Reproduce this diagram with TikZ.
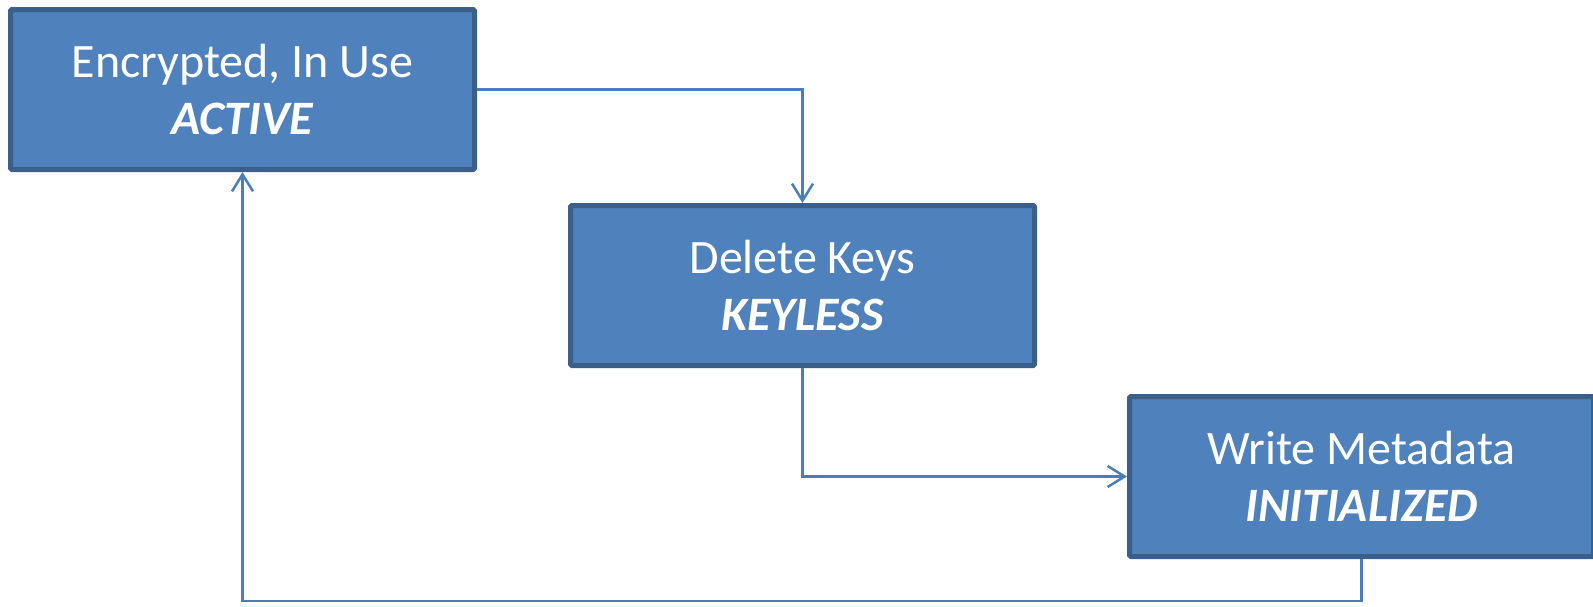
\documentclass[tikz,border=0pt]{standalone}
\usepackage{fontspec}
\setmainfont{Carlito}
\usetikzlibrary{arrows.meta,calc}
\definecolor{boxfill}{HTML}{4F81BD}
\definecolor{boxline}{HTML}{3A5F8B}
\definecolor{wire}{HTML}{4A7EBB}
\tikzset{
  state/.style={draw=boxline, fill=boxfill, line width=5pt, rounded corners=1.5pt,
    minimum width=464pt, minimum height=160pt, inner sep=0pt,
    text=white, align=center, font=\fontsize{48}{57}\selectfont},
  flow/.style={draw=wire, line width=2.5pt, rounded corners=0pt,
    -{Straight Barb[length=17pt,width=21pt,line width=2.5pt]}}
}
\begin{document}
\begin{tikzpicture}[x=1pt,y=-1pt]
\useasboundingbox (0,0) rectangle (1593,606);
\node[state] (active) at (242.5,89.5) {Encrypted, In Use\\\textbf{\textit{ACTIVE}}};
\node[state] (keyless) at (802.5,285.5) {Delete Keys\\\textbf{\textit{KEYLESS}}};
\node[state] (init) at (1361.5,476.5) {Write Metadata\\\textbf{\textit{INITIALIZED}}};
\draw[flow] (active.east) -| (keyless.north);
\draw[flow] (keyless.south) |- (init.west);
\draw[flow] (init.south) -- ++(0,42) -| (active.south);
\end{tikzpicture}
\end{document}
